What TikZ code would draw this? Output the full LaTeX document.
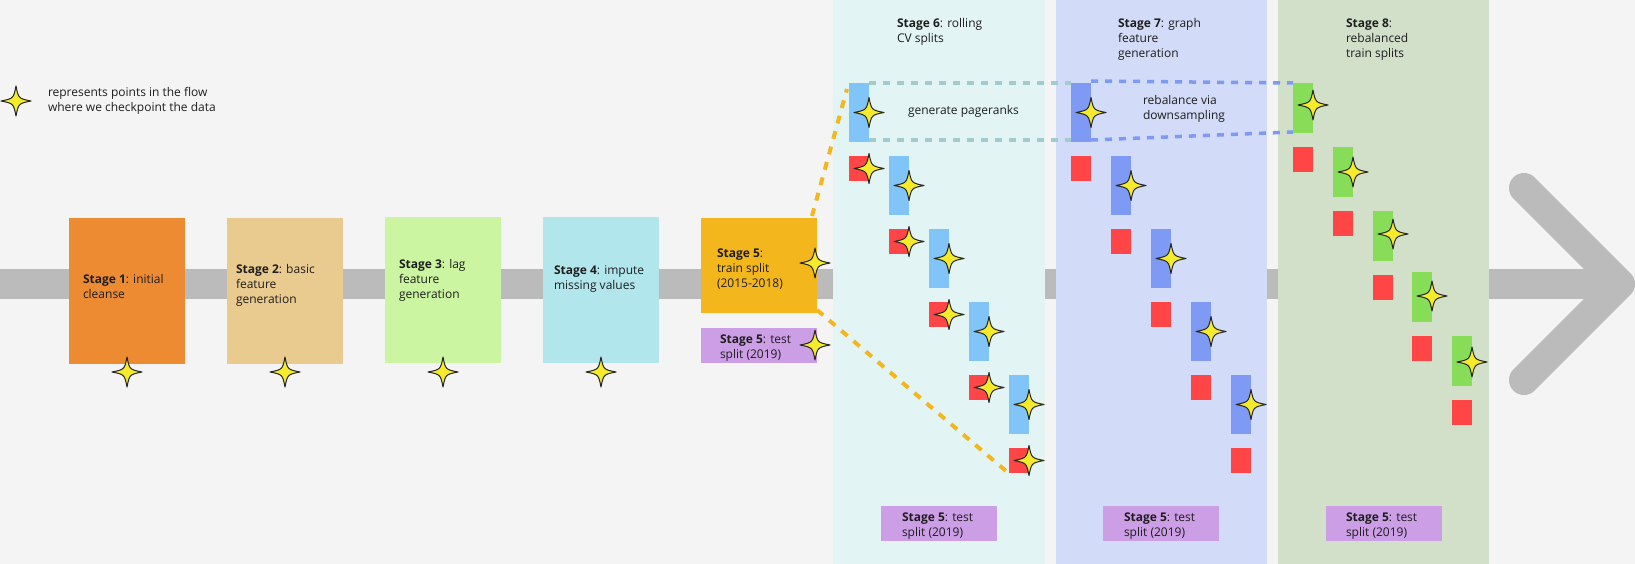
\documentclass[tikz,border=0pt]{standalone}
\usepackage{fontspec}
\setmainfont{Open Sans}
\usetikzlibrary{calc}
\definecolor{bgc}{HTML}{F4F4F4}
\definecolor{barc}{HTML}{BBBBBB}
\definecolor{cone}{HTML}{EC8B32}
\definecolor{ctwo}{HTML}{E9CA8F}
\definecolor{cthree}{HTML}{CBF5A0}
\definecolor{cfour}{HTML}{B1E6EC}
\definecolor{cfive}{HTML}{F3B61C}
\definecolor{ctest}{HTML}{CC9EE6}
\definecolor{bgsix}{HTML}{E3F4F4}
\definecolor{bgseven}{HTML}{D2DBF8}
\definecolor{bgeight}{HTML}{D2DFC9}
\definecolor{lblue}{HTML}{80C4F8}
\definecolor{dblue}{HTML}{7F9AF5}
\definecolor{redc}{HTML}{FF4545}
\definecolor{greenc}{HTML}{88DD58}
\definecolor{starc}{HTML}{F5EB2A}
\definecolor{dashteal}{HTML}{A2CCCC}
\definecolor{txt}{HTML}{1E1E1E}
\newcommand\lns[1]{\begin{tabular}[t]{@{}l@{}}#1\end{tabular}}
\tikzset{
  blk/.style={anchor=north west, inner sep=0pt, outer sep=0pt, draw=none},
  lbl/.style={anchor=base west, inner sep=0pt, outer sep=0pt, text=txt, font=\fontsize{12}{15}\selectfont},
  ckpt/.pic={\filldraw[fill=starc, draw=black!85, line width=1pt, line join=round]
     (0,15) .. controls (2.5,2.5) .. (15,0) .. controls (2.5,-2.5) .. (0,-15)
     .. controls (-2.5,-2.5) .. (-15,0) .. controls (-2.5,2.5) .. cycle;},
  tealdash/.style={draw=dashteal, line width=3.5pt, dash pattern=on 7pt off 7pt},
  bluedash/.style={draw=dblue, line width=3.5pt, dash pattern=on 7pt off 7pt},
  orangedash/.style={draw=cfive, line width=4pt, dash pattern=on 8pt off 8pt},
}
\begin{document}
\begin{tikzpicture}[x=1pt, y=-1pt]
\useasboundingbox (0,0) rectangle (1635,564);
\fill[bgc] (0,0) rectangle (1635,564);
% main bar and chevron
\fill[barc] (0,269) rectangle (1620,299);
\draw[barc, line width=30pt, line cap=round, line join=round] (1524,188) -- (1620,284) -- (1524,380);
% stage backgrounds
\fill[bgsix] (833,0) rectangle (1045,564);
\fill[bgseven] (1056,0) rectangle (1267,564);
\fill[bgeight] (1278,0) rectangle (1489,564);
% legend
\pic at (16,101) {ckpt};
\node[lbl] (leg) at (48,97) {\lns{represents points in the flow\\where we checkpoint the data}};
% stage boxes
\node[blk, fill=cone, minimum width=116pt, minimum height=146pt] (s1) at (69,218) {};
\node[blk, fill=ctwo, minimum width=116pt, minimum height=146pt] (s2) at (227,218) {};
\node[blk, fill=cthree, minimum width=116pt, minimum height=146pt] (s3) at (385,217) {};
\node[blk, fill=cfour, minimum width=116pt, minimum height=146pt] (s4) at (543,217) {};
\node[blk, fill=cfive, minimum width=116pt, minimum height=95pt] (s5) at (701,218) {};
\node[blk, fill=ctest, minimum width=116pt, minimum height=35pt] (s5t) at (701,328) {};
\node[lbl] (s1l) at (83,283) {\lns{\textbf{Stage 1}: initial\\cleanse}};
\node[lbl] (s2l) at (236,273) {\lns{\textbf{Stage 2}: basic\\feature\\generation}};
\node[lbl] (s3l) at (399,268) {\lns{\textbf{Stage 3}: lag\\feature\\generation}};
\node[lbl] (s4l) at (554,274) {\lns{\textbf{Stage 4}: impute\\missing values}};
\node[lbl] (s5l) at (717,257) {\lns{\textbf{Stage 5}:\\train split\\(2015-2018)}};
\node[lbl] (s5tl) at (720,343) {\lns{\textbf{Stage 5}: test\\split (2019)}};
\pic at (127,372) {ckpt};
\pic at (285,372) {ckpt};
\pic at (443,372) {ckpt};
\pic at (601,372) {ckpt};
\pic at (815,263) {ckpt};
\pic at (815,345) {ckpt};
% stage headers
\node[lbl] (h6) at (897,28) {\lns{\textbf{Stage 6}: rolling\\CV splits}};
\node[lbl] (h7) at (1118,28) {\lns{\textbf{Stage 7}: graph\\feature\\generation}};
\node[lbl] (h8) at (1346,28) {\lns{\textbf{Stage 8}:\\rebalanced\\train splits}};
% stage 6 and 7 splits
\foreach \k in {0,...,4}{
  \node[blk, fill=lblue, minimum width=20pt, minimum height=59pt] (b6\k) at ({849+40*\k},{83+73*\k}) {};
  \node[blk, fill=redc, minimum width=20pt, minimum height=25pt] (r6\k) at ({849+40*\k},{156+73*\k}) {};
  \node[blk, fill=dblue, minimum width=20pt, minimum height=59pt] (b7\k) at ({1071+40*\k},{83+73*\k}) {};
  \node[blk, fill=redc, minimum width=20pt, minimum height=25pt] (r7\k) at ({1071+40*\k},{156+73*\k}) {};
}
% stage 8 splits
\foreach \k/\xx/\yg/\yr in {0/1293/83/147, 1/1333/147/211, 2/1373/211/275, 3/1412/272/336, 4/1452/336/400}{
  \node[blk, fill=greenc, minimum width=20pt, minimum height=50pt] (g8\k) at (\xx,\yg) {};
  \node[blk, fill=redc, minimum width=20pt, minimum height=25pt] (r8\k) at (\xx,\yr) {};
}
% dashed connectors
\draw[tealdash] (b60.north east) -- (b70.north west);
\draw[tealdash] ([yshift=2pt]b60.south east) -- ([yshift=2pt]b70.south west);
\draw[bluedash] ([yshift=2pt]b70.north east) -- (g80.north west);
\draw[bluedash] ([yshift=2pt]b70.south east) -- ([yshift=1pt]g80.south west);
\draw[orangedash] ([xshift=-5pt,yshift=2pt]s5.north east) -- ([xshift=-2pt,yshift=-6pt]b60.north west);
\draw[orangedash] ([yshift=3pt]s5.south east) -- ([xshift=-3pt,yshift=2pt]r64.south west);
\node[lbl] (pr) at (908,115) {generate pageranks};
\node[lbl] (rb) at (1143,105) {\lns{rebalance via\\downsampling}};
% checkpoint stars
\foreach \k in {0,...,4}{
  \pic at (b6\k.east) {ckpt};
  \pic at (r6\k.east) {ckpt};
  \pic at (b7\k.east) {ckpt};
}
\foreach \k/\yy in {0/105, 1/172, 2/234, 3/296, 4/362}{
  \pic at (g8\k.east |- 0,\yy) {ckpt};
}
% test split boxes
\node[blk, fill=ctest, minimum width=116pt, minimum height=35pt] (t6) at (881,506) {};
\node[blk, fill=ctest, minimum width=116pt, minimum height=35pt] (t7) at (1103,506) {};
\node[blk, fill=ctest, minimum width=116pt, minimum height=35pt] (t8) at (1326,506) {};
\node[lbl] (t6l) at (902,521) {\lns{\textbf{Stage 5}: test\\split (2019)}};
\node[lbl] (t7l) at (1124,521) {\lns{\textbf{Stage 5}: test\\split (2019)}};
\node[lbl] (t8l) at (1346,521) {\lns{\textbf{Stage 5}: test\\split (2019)}};
\end{tikzpicture}
\end{document}
